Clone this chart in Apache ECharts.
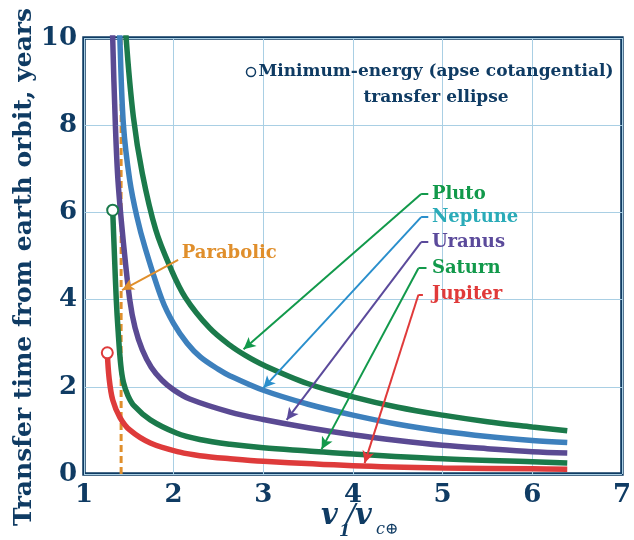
<!DOCTYPE html>
<html>
<head>
<meta charset="utf-8">
<script src="https://cdn.jsdelivr.net/npm/echarts@6/dist/echarts.min.js"></script>
<style>
html, body { margin: 0; padding: 0; background: #fff; }
#chart { width: 634px; height: 540px; }
</style>
</head>
<body>
<div id="chart"></div>
<script>
// curves: [v1/vc, transfer time in years]
var pluto = [[1.45, 11], [1.47, 10], [1.55, 8.2], [1.65, 6.9], [1.80, 5.6], [1.96, 4.75], [2.13, 4.05], [2.4, 3.35], [2.63, 2.95], [2.8, 2.72], [3, 2.5], [3.5, 2.07], [4, 1.77], [4.5, 1.53], [5, 1.35], [5.5, 1.2], [6, 1.08], [6.39, 0.99]];
var neptune = [[1.39, 11], [1.40, 10], [1.44, 8.0], [1.51, 6.74], [1.59, 5.9], [1.68, 5.2], [1.87, 4.0], [2.0, 3.45], [2.15, 3.0], [2.3, 2.68], [2.5, 2.4], [2.63, 2.25], [3, 1.92], [3.5, 1.6], [4, 1.35], [4.5, 1.14], [5, 0.98], [5.5, 0.86], [6, 0.77], [6.39, 0.72]];
var uranus = [[1.31, 11], [1.32, 10], [1.35, 8.0], [1.38, 6.7], [1.44, 5.3], [1.51, 4.0], [1.57, 3.35], [1.65, 2.85], [1.75, 2.45], [1.87, 2.15], [2.0, 1.93], [2.18, 1.72], [2.63, 1.42], [3, 1.25], [3.5, 1.06], [4, 0.9], [4.5, 0.77], [5, 0.66], [5.5, 0.58], [6, 0.51], [6.39, 0.48]];
var saturn = [[1.32, 6.05], [1.34, 5.0], [1.36, 4.0], [1.38, 3.30], [1.41, 2.5], [1.44, 2.1], [1.49, 1.8], [1.56, 1.56], [1.74, 1.24], [2.03, 0.94], [2.29, 0.79], [2.63, 0.68], [3, 0.60], [3.5, 0.53], [4, 0.46], [5, 0.35], [6, 0.28], [6.39, 0.25]];
var jupiter = [[1.26, 2.78], [1.28, 2.2], [1.32, 1.7], [1.40, 1.30], [1.51, 1.01], [1.74, 0.71], [2.07, 0.50], [2.29, 0.42], [2.63, 0.35], [3, 0.29], [4, 0.19], [5, 0.14], [6, 0.12], [6.39, 0.11]];
var parabolic = [[1.414, 0], [1.414, 10]];

var xTicks = [1, 2, 3, 4, 5, 6, 7];
var yTicks = [0, 2, 4, 6, 8, 10];

// annotation labels, arrows: label end -> elbow -> tip (data units)
var planetNames = ['Pluto', 'Neptune', 'Uranus', 'Saturn', 'Jupiter'];
var labelAt = [[4.88, 6.42], [4.88, 5.89], [4.88, 5.32], [4.88, 4.72], [4.88, 4.11]];
var arrowStart = [[4.84, 6.42], [4.84, 5.89], [4.84, 5.32], [4.82, 4.72], [4.78, 4.11]];
var arrowElbow = [[4.76, 6.42], [4.76, 5.89], [4.76, 5.32], [4.73, 4.72], [4.73, 4.11]];
var arrowTip = [[2.78, 2.86], [3.0, 1.97], [3.26, 1.24], [3.65, 0.57], [4.13, 0.25]];
var parabolicLabelAt = [2.09, 5.07];
var parabolicArrow = [[2.05, 4.91], [1.425, 4.22]];

var NAVY = '#0f3b63';
var FONT = '"DejaVu Serif", serif';
var curveColors = ['#1b7a4b', '#3d80bd', '#5a4a93', '#1b7a4b', '#de3b3b'];
var arrowColors = ['#12994b', '#2a8fcc', '#5b4a9b', '#12994b', '#e03a3a'];
var labelColors = ['#12994b', '#2aabb8', '#5b4a9b', '#12994b', '#e03a3a'];
var ORANGE = '#e08f2c';

function curveSeries(name, data, color, withStartCircle) {
    var pts = data.map(function (p, i) {
        if (withStartCircle && i == 0) {
            return {
                value: p,
                symbol: 'circle',
                symbolSize: 11,
                itemStyle: { color: '#fff', borderColor: color, borderWidth: 2 }
            };
        }
        return { value: p, symbol: 'none' };
    });
    return {
        name: name,
        type: 'line',
        data: pts,
        smooth: 0.35,
        showSymbol: true,
        symbol: 'none',
        lineStyle: { color: color, width: 5.5 },
        itemStyle: { color: color },
        z: withStartCircle ? 3 : 2,
        silent: true
    };
}

function arrowLines() {
    var segs = [];
    for (var i = 0; i < planetNames.length; ++i) {
        var style = { color: arrowColors[i], width: 2, type: 'solid' };
        segs.push([
            { coord: arrowStart[i], symbol: 'none', lineStyle: style },
            { coord: arrowElbow[i], symbol: 'none' }
        ]);
        segs.push([
            { coord: arrowElbow[i], symbol: 'none', lineStyle: style },
            { coord: arrowTip[i], symbol: 'arrow' }
        ]);
    }
    segs.push([
        { coord: parabolicArrow[0], symbol: 'none', lineStyle: { color: ORANGE, width: 2, type: 'solid' } },
        { coord: parabolicArrow[1], symbol: 'arrow' }
    ]);
    return segs;
}

var chart = echarts.init(document.getElementById('chart'));
var option = {
    animation: false,
    grid: {
        left: 84, right: 12, top: 38, bottom: 66,
        show: true,
        borderColor: NAVY,
        borderWidth: 3.5,
        backgroundColor: 'transparent'
    },
    xAxis: {
        type: 'value',
        min: xTicks[0], max: xTicks[xTicks.length - 1], interval: 1,
        axisLine: { show: false },
        axisTick: { show: false },
        splitLine: { lineStyle: { color: '#a9cfe4', width: 1 } },
        axisLabel: { color: NAVY, fontFamily: FONT, fontWeight: 'bold', fontSize: 26, margin: 8 }
    },
    yAxis: {
        type: 'value',
        min: yTicks[0], max: yTicks[yTicks.length - 1], interval: 2,
        axisLine: { show: false },
        axisTick: { show: false },
        splitLine: { lineStyle: { color: '#a9cfe4', width: 1 } },
        axisLabel: { color: NAVY, fontFamily: FONT, fontWeight: 'bold', fontSize: 26, margin: 7 }
    },
    series: [
        {
            name: 'Parabolic',
            type: 'line',
            data: parabolic,
            symbol: 'none',
            lineStyle: { color: ORANGE, width: 3, type: [7, 4] },
            z: 1,
            silent: true
        },
        curveSeries('Pluto', pluto, curveColors[0], false),
        curveSeries('Neptune', neptune, curveColors[1], false),
        curveSeries('Uranus', uranus, curveColors[2], false),
        curveSeries('Saturn', saturn, curveColors[3], true),
        curveSeries('Jupiter', jupiter, curveColors[4], true),
        {
            name: 'arrows',
            type: 'line',
            data: [],
            z: 6,
            markLine: {
                silent: true,
                symbol: ['none', 'none'],
                symbolSize: [9, 12],
                label: { show: false },
                emphasis: { disabled: true },
                data: arrowLines()
            }
        }
    ]
};
chart.setOption(option);

// texts placed after the grid exists
var graphics = [];
for (var i = 0; i < planetNames.length; ++i) {
    var p = chart.convertToPixel({ gridIndex: 0 }, labelAt[i]);
    graphics.push({
        type: 'text', x: p[0], y: p[1], z: 10,
        style: {
            text: planetNames[i], fill: labelColors[i],
            font: 'bold 18px ' + FONT,
            textAlign: 'left', textVerticalAlign: 'middle', align: 'left', verticalAlign: 'middle'
        }
    });
}
var pp = chart.convertToPixel({ gridIndex: 0 }, parabolicLabelAt);
graphics.push({
    type: 'text', x: pp[0], y: pp[1], z: 10,
    style: {
        text: 'Parabolic', fill: ORANGE, font: 'bold 18px ' + FONT,
        textAlign: 'left', textVerticalAlign: 'middle', align: 'left', verticalAlign: 'middle'
    }
});
// note box in the upper right
graphics.push({
    type: 'circle', shape: { cx: 251, cy: 72, r: 4.5 }, z: 10,
    style: { fill: '#fff', stroke: NAVY, lineWidth: 1.5 }
});
graphics.push({
    type: 'text', x: 436, y: 72, z: 10,
    style: {
        text: 'Minimum-energy (apse cotangential)', fill: NAVY, font: 'bold 17px ' + FONT,
        textAlign: 'center', textVerticalAlign: 'middle', align: 'center', verticalAlign: 'middle'
    }
});
graphics.push({
    type: 'text', x: 436, y: 98, z: 10,
    style: {
        text: 'transfer ellipse', fill: NAVY, font: 'bold 17px ' + FONT,
        textAlign: 'center', textVerticalAlign: 'middle', align: 'center', verticalAlign: 'middle'
    }
});
// y axis title
graphics.push({
    type: 'text', x: 24, y: 267, rotation: Math.PI / 2, z: 10,
    style: {
        text: 'Transfer time from earth orbit, years', fill: NAVY, font: 'bold 25px ' + FONT,
        textAlign: 'center', textVerticalAlign: 'middle', align: 'center', verticalAlign: 'middle'
    }
});
// x axis title  v1 / v c(+)
var xName = [
    ['v', 321, 516, 'italic bold 29px '],
    ['1', 339, 532, 'italic bold 16px '],
    ['/', 346, 517, 'italic 28px '],
    ['v', 355, 516, 'italic bold 29px '],
    ['c\u2295', 376, 530, 'italic 16px ']
];
xName.forEach(function (t) {
    graphics.push({
        type: 'text', x: t[1], y: t[2], z: 10,
        style: {
            text: t[0], fill: NAVY, font: t[3] + FONT,
            textAlign: 'left', textVerticalAlign: 'middle', align: 'left', verticalAlign: 'middle'
        }
    });
});
chart.setOption({ graphic: graphics });
</script>
</body>
</html>
